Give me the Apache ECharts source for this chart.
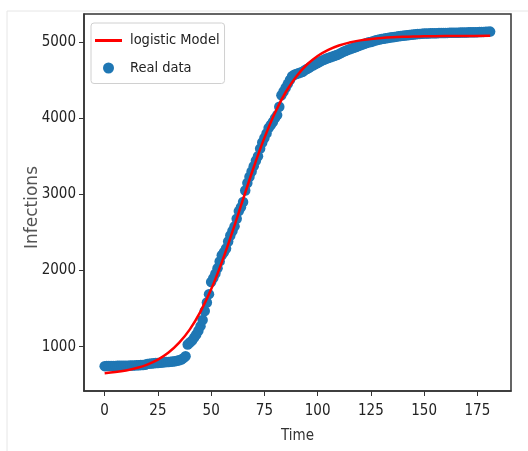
<!DOCTYPE html>
<html>
<head>
<meta charset="utf-8">
<script src="https://cdn.jsdelivr.net/npm/echarts@6/dist/echarts.min.js"></script>
<style>
html,body{margin:0;padding:0;background:#fff;}
#chart{width:528px;height:451px;}
</style>
</head>
<body>
<div id="chart"></div>
<script>
// Real data: one value per day, starting at day 0
var realValues = [
  745,746,746,747,747,748,749,749,750,751,751,752,753,754,755,756,757,759,761,764,
  775,778,780,782,785,787,790,792,795,798,800,803,806,810,815,822,832,850,875,
  1030,1055,1080,1120,1160,1210,1270,1350,1470,1580,1690,
  1850,1900,1960,2030,2120,2200,2240,2290,2380,2460,
  2520,2580,2680,2780,2830,2900,3050,3150,3230,3300,
  3370,3440,3500,3600,3680,3740,3800,3870,3910,3950,
  4000,4040,4150,4300,4350,4400,4450,4500,4550,4570,
  4580,4590,4600,4610,4630,4645,4660,4680,4695,4710,
  4725,4740,4755,4765,4780,4790,4800,4810,4820,4830,
  4840,4855,4870,4880,4895,4905,4915,4925,4935,4945,
  4955,4965,4975,4985,4995,5000,5010,5018,5025,5032,
  5038,5043,5048,5053,5058,5062,5066,5070,5074,5078,
  5082,5085,5088,5091,5094,5097,5100,5103,5106,5108,
  5110,5111,5112,5113,5114,5115,5115,5116,5117,5118,
  5118,5119,5120,5120,5121,5122,5122,5123,5124,5124,
  5125,5126,5126,5127,5128,5129,5130,5131,5132,5133,5134,5136
];
// Logistic model curve
var modelTimes = [0,5,10,15,20,25,30,35,40,45,50,55,60,65,70,75,80,85,90,95,100,105,110,115,120,125,130,135,140,145,150,160,170,181];
var modelValues = [652,667,689,721,766,831,924,1053,1228,1460,1753,2108,2510,2936,3356,3741,4072,4340,4548,4704,4817,4897,4954,4993,5021,5039,5052,5061,5067,5071,5074,5077,5079,5080];
var xTicks = [0,25,50,75,100,125,150,175];
var yTicks = [1000,2000,3000,4000,5000];
var seriesNames = ['logistic Model','Real data'];
var xTitle = 'Time';
var yTitle = 'Infections';

var realPairs = realValues.map(function(v,i){ return [i, v]; });
var modelPairs = modelTimes.map(function(t,i){ return [t, modelValues[i]]; });

var narrow = "'DejaVu Sans Condensed','Liberation Sans Narrow',sans-serif";
var plain = function(v){ return String(v); };
var chart = echarts.init(document.getElementById('chart'), null, {renderer:'canvas'});
chart.setOption({
  animation: false,
  backgroundColor: '#fff',
  graphic: [
    {type:'line', shape:{x1:7,y1:11,x2:528,y2:11}, style:{stroke:'#e6e6e6', lineWidth:1}, silent:true},
    {type:'line', shape:{x1:7,y1:11,x2:7,y2:451}, style:{stroke:'#e6e6e6', lineWidth:1}, silent:true}
  ],
  grid: {left:84, right:17, top:14, bottom:60, show:true, borderColor:'#333', borderWidth:1.5, backgroundColor:'#fff'},
  legend: {
    left: 91, top: 23, orient: 'vertical',
    backgroundColor:'#fff', borderColor:'#d0d0d0', borderWidth:1, borderRadius:3,
    padding:[10,5,8,4], itemGap:12.5, itemWidth:27, itemHeight:11,
    textStyle:{fontFamily:narrow, fontSize:14.5, color:'#222', padding:[0,0,0,3]},
    data:[
      {name:seriesNames[0], icon:'path://M0,0H27V3H0Z', itemStyle:{color:'#ff0000'}},
      {name:seriesNames[1], icon:'circle'}
    ]
  },
  xAxis: {
    type:'value', min:-9.7, max:190.8,
    name:xTitle, nameLocation:'middle', nameGap:38, nameMoveOverlap:false,
    nameTextStyle:{fontFamily:narrow, fontSize:15, color:'#333'},
    axisLine:{show:true, onZero:false, lineStyle:{color:'#333', width:1.5}},
    axisTick:{show:true, length:5, lineStyle:{color:'#333'}, customValues:xTicks},
    axisLabel:{fontFamily:narrow, fontSize:15, color:'#222', margin:13, customValues:xTicks, formatter:plain},
    splitLine:{show:false}
  },
  yAxis: {
    type:'value', min:419, max:5367,
    name:yTitle, nameLocation:'middle', nameGap:43, nameRotate:90, nameMoveOverlap:false,
    nameTextStyle:{fontFamily:"'DejaVu Sans',sans-serif", fontSize:17, color:'#555', padding:[0,10,0,0]},
    axisLine:{show:true, onZero:false, lineStyle:{color:'#333', width:1.5}},
    axisTick:{show:true, length:5, lineStyle:{color:'#333'}, customValues:yTicks},
    axisLabel:{fontFamily:narrow, fontSize:15, color:'#222', margin:8, customValues:yTicks, formatter:plain},
    splitLine:{show:false}
  },
  series: [
    {
      name:seriesNames[1], type:'scatter', data:realPairs,
      symbol:'circle', symbolSize:10.5,
      itemStyle:{color:'#1f77b4', opacity:1}, z:2
    },
    {
      name:seriesNames[0], type:'line', data:modelPairs,
      smooth:0.4, symbol:'none', showSymbol:false,
      lineStyle:{color:'#ff0000', width:2.5}, itemStyle:{color:'#ff0000'}, z:3
    }
  ]
});
</script>
</body>
</html>
